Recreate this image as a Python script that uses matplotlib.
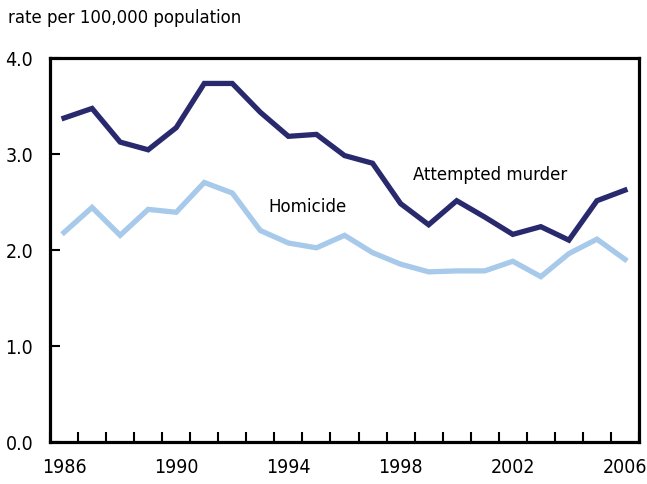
import matplotlib
matplotlib.use("Agg")
import matplotlib.pyplot as plt
import numpy as np

# ---------- dados ----------
years = list(range(1986, 2007))
attempted_murder = [3.37, 3.47, 3.12, 3.04, 3.27, 3.73, 3.73, 3.43, 3.18, 3.20,
                    2.98, 2.90, 2.48, 2.26, 2.51, 2.34, 2.16, 2.24, 2.10, 2.51, 2.62]
homicide = [2.18, 2.44, 2.15, 2.42, 2.39, 2.70, 2.59, 2.20, 2.07, 2.02,
            2.15, 1.97, 1.85, 1.77, 1.78, 1.78, 1.88, 1.72, 1.96, 2.11, 1.90]
year_labels = ["1986", "1990", "1994", "1998", "2002", "2006"]
y_ticks = [0.0, 1.0, 2.0, 3.0, 4.0]

DARK = "#29296e"
LIGHT = "#a7c9ea"

plt.rcParams['font.family'] = ['DejaVu Sans']
plt.rcParams['font.stretch'] = 'condensed'

fig = plt.figure(figsize=(6.47, 4.85), dpi=100)
ax = fig.add_axes([50/647, 42/485, 589/647, 384.5/485])

x = np.arange(len(years))
ax.plot(x, homicide, color=LIGHT, lw=3.8, solid_joinstyle="miter")
ax.plot(x, attempted_murder, color=DARK, lw=3.8, solid_joinstyle="miter")

ax.text(7.27, 2.45, "Homicide", fontsize=13.3, va="center", ha="left")
ax.text(12.44, 2.79, "Attempted murder", fontsize=13.2, va="center", ha="left")

ax.set_xlim(-0.5, len(years) - 0.5)
ax.set_ylim(0, 4)

# rótulos dos anos no centro, marcas nas bordas das categorias
ax.set_xticks([years.index(int(y)) for y in year_labels])
ax.set_xticklabels(year_labels, fontsize=14)
ax.set_xticks(np.arange(-0.5, len(years)), minor=True)
ax.tick_params(axis="x", which="major", length=0, pad=11)
ax.tick_params(axis="x", which="minor", direction="in", length=7, width=1.5)

ax.set_yticks(y_ticks)
ax.set_yticklabels([f"{v:.1f}" for v in y_ticks], fontsize=14)
ax.tick_params(axis="y", direction="in", length=7, width=1.5, pad=12)

for s in ax.spines.values():
    s.set_linewidth(2.3)
    s.set_color("black")

fig.text(8/647, 1 - 18/485, "rate per 100,000 population", fontsize=13.2,
         ha="left", va="center")

fig.savefig("out.png", dpi=100)
